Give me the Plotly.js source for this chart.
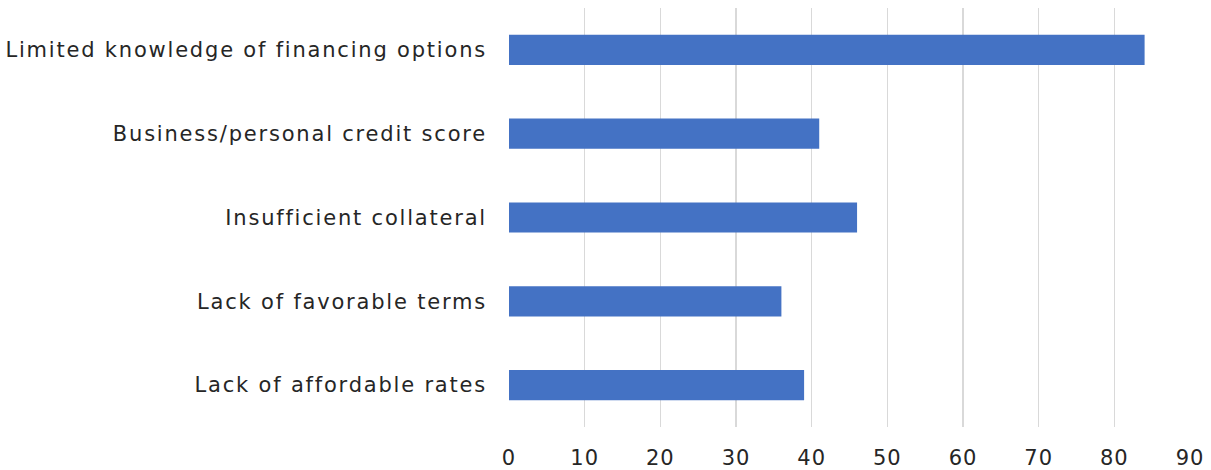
<!DOCTYPE html>
<html>
<head>
<meta charset="utf-8">
<script src="https://cdn.plot.ly/plotly-3.0.1.min.js"></script>
<style>
html,body{margin:0;padding:0;background:#fff;}
#chart{width:1211px;height:470px;}
#chart .ytick text{letter-spacing:1.8px;}
#chart .xtick text{letter-spacing:1px;}
</style>
</head>
<body>
<div id="chart"></div>
<script>
const categories = [
  "Limited knowledge of financing options",
  "Business/personal credit score",
  "Insufficient collateral",
  "Lack of favorable terms",
  "Lack of affordable rates"
];
const values = [84, 41, 46, 36, 39];
const xTicks = [0, 10, 20, 30, 40, 50, 60, 70, 80, 90];

const trace = {
  type: 'bar',
  orientation: 'h',
  y: categories,
  x: values,
  marker: {color: '#4472C4'},
  hoverinfo: 'x+y'
};

const layout = {
  width: 1211,
  height: 470,
  margin: {l: 509, r: 21, t: 8, b: 43},
  paper_bgcolor: '#ffffff',
  plot_bgcolor: '#ffffff',
  bargap: 0.64,
  showlegend: false,
  font: {family: 'DejaVu Sans, sans-serif', size: 21, color: '#262626'},
  xaxis: {
    range: [0, 90],
    tickvals: xTicks,
    ticktext: xTicks.map(String),
    showgrid: true,
    gridcolor: '#d9d9d9',
    gridwidth: 1.6,
    zeroline: false,
    showline: false,
    ticks: '',
    ticklabelstandoff: 16,
    tickfont: {size: 21, color: '#262626'},
    fixedrange: true
  },
  yaxis: {
    autorange: 'reversed',
    showgrid: false,
    zeroline: false,
    showline: false,
    ticks: '',
    ticklabelstandoff: 21,
    tickfont: {size: 21, color: '#262626'},
    fixedrange: true
  }
};

Plotly.newPlot('chart', [trace], layout, {displayModeBar: false, staticPlot: true});
</script>
</body>
</html>
